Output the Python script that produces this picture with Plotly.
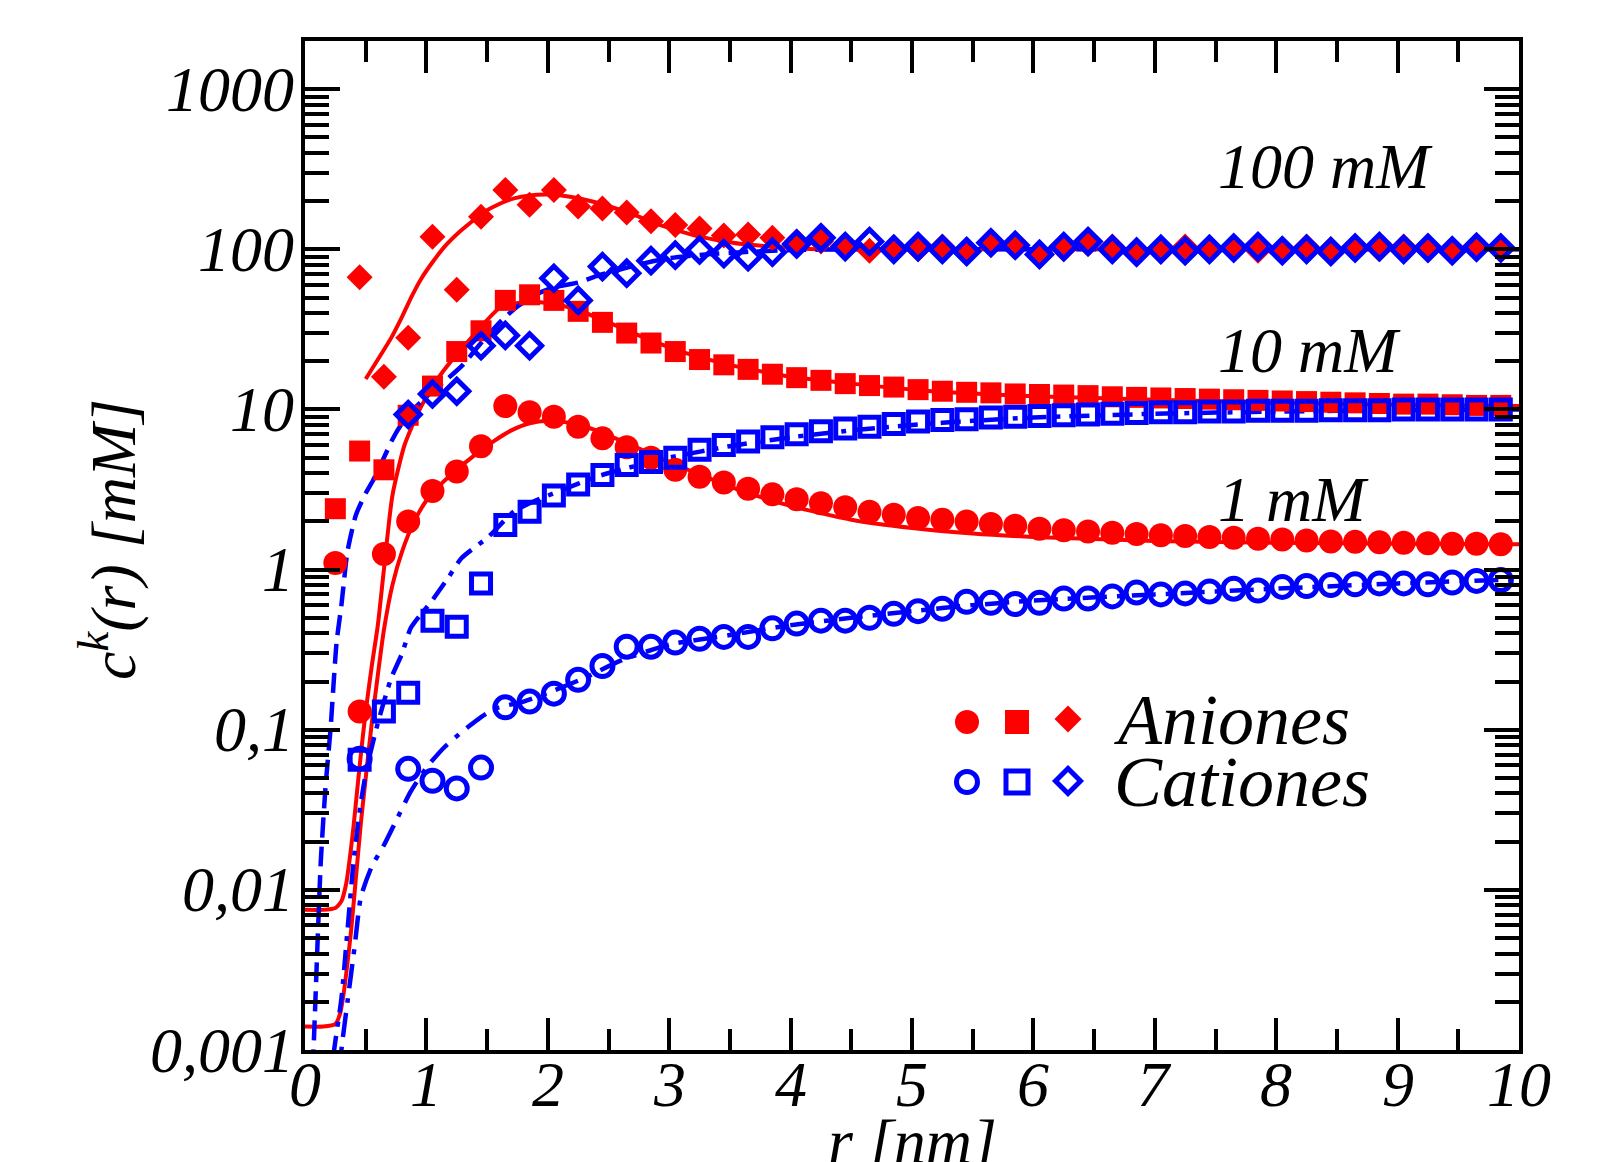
import numpy as np
import plotly.graph_objects as go

# ---------------- data ----------------
r_pts = np.round(np.arange(0.25, 9.86, 0.2), 2)  # sampling grid of the simulation points

an_1mM = [1.1, 0.13, 1.25, 2.0, 3.1, 4.1, 5.9, 10.5, 9.6, 9.0, 7.8, 6.6, 5.8, 5.0, 4.2, 3.8, 3.5, 3.2, 2.95,
          2.75, 2.6, 2.45, 2.3, 2.2, 2.1, 2.05, 2.0, 1.93, 1.88, 1.8, 1.76, 1.73, 1.7, 1.67, 1.64, 1.62, 1.6,
          1.58, 1.56, 1.54, 1.52, 1.5, 1.49, 1.48, 1.47, 1.46, 1.45, 1.45, 1.44]
an_10mM = [2.4, 5.5, 4.2, 9.2, 14, 23, 31, 48, 52, 48, 41, 35, 30, 26, 23, 20.5, 19, 17.8, 16.6, 15.8, 15.2,
           14.5, 14.1, 13.8, 13.3, 13.0, 12.8, 12.7, 12.5, 12.4, 12.3, 12.2, 12.0, 11.9, 11.8, 11.7, 11.6,
           11.5, 11.4, 11.3, 11.2, 11.1, 11.0, 10.9, 10.8, 10.8, 10.7, 10.6, 10.6]
an_100mM = [None, 67, 16, 28, 120, 56, 160, 235, 190, 235, 185, 180, 170, 150, 142, 135, 122, 124, 118, 112,
            112, 107, 98, 103, 100, 104, 96, 110, 104, 95, 100, 108, 104, 98, 97, 104, 100, 104, 98, 100, 104,
            100, 102, 100, 104, 100, 98, 102, 102]
cat_1mM = [None, 0.066, None, 0.057, 0.048, 0.043, 0.058, 0.138, 0.15, 0.168, 0.205, 0.25, 0.33, 0.33, 0.35,
           0.37, 0.38, 0.38, 0.43, 0.46, 0.48, 0.48, 0.5, 0.53, 0.55, 0.57, 0.63, 0.62, 0.61, 0.62, 0.66, 0.66,
           0.68, 0.72, 0.7, 0.71, 0.73, 0.76, 0.74, 0.78, 0.79, 0.8, 0.81, 0.82, 0.82, 0.81, 0.83, 0.85, 0.86]
cat_10mM = [None, 0.065, 0.13, 0.17, 0.48, 0.44, 0.82, 1.9, 2.3, 2.9, 3.4, 3.9, 4.5, 4.7, 5.0, 5.6, 6.0, 6.3,
            6.7, 7.0, 7.3, 7.6, 7.8, 8.1, 8.4, 8.6, 8.7, 8.9, 9.0, 9.1, 9.2, 9.3, 9.4, 9.5, 9.6, 9.6, 9.7, 9.7,
            9.8, 9.8, 9.8, 9.9, 9.9, 9.9, 10.0, 10.0, 10.0, 10.0, 10.0]
cat_100mM = [None, None, None, 9.3, 12.5, 13, 25, 29, 25, 66, 48, 78, 71, 85, 92, 99, 94, 90, 96, 108, 118,
             104, 112, 100, 104, 100, 97, 110, 106, 93, 104, 112, 100, 96, 100, 98, 100, 102, 104, 98, 100,
             97, 102, 104, 100, 102, 98, 103, 102]

# theory curves
rl_an1 = [0, 0.15, 0.25, 0.29, 0.32, 0.35, 0.38, 0.42, 0.46, 0.5, 0.55, 0.6, 0.65, 0.72, 0.8, 0.9, 1.0, 1.1,
          1.25, 1.4, 1.55, 1.7, 1.85, 2.0, 2.2, 2.4, 2.6, 2.8, 3.0, 3.3, 3.6, 4.0, 4.5, 5.0, 5.5, 6.0, 6.5,
          7.0, 8.0, 9.0, 10.0]
vl_an1 = [0.0014, 0.0014, 0.00145, 0.0017, 0.0023, 0.0035, 0.0056, 0.012, 0.026, 0.05, 0.11, 0.22, 0.42,
          0.8, 1.3, 2.0, 2.7, 3.3, 4.2, 5.2, 6.3, 7.4, 8.2, 8.5, 8.2, 7.4, 6.4, 5.5, 4.7, 3.8, 3.1, 2.5, 2.05,
          1.82, 1.68, 1.6, 1.55, 1.51, 1.47, 1.45, 1.44]
rl_an10 = [0, 0.15, 0.25, 0.3, 0.34, 0.37, 0.4, 0.43, 0.46, 0.5, 0.55, 0.6, 0.65, 0.72, 0.82, 0.95, 1.12,
           1.37, 1.62, 1.9, 2.2, 2.5, 2.8, 3.1, 3.5, 4.0, 4.5, 5.0, 5.5, 6.0, 7.0, 8.0, 9.0, 10.0]
vl_an10 = [0.0075, 0.0075, 0.0077, 0.0085, 0.011, 0.016, 0.025, 0.042, 0.07, 0.13, 0.25, 0.45, 1.0, 2.9, 6.0,
           10.2, 16.6, 28, 44, 47, 43, 35, 28, 23, 19, 16, 14.5, 13.3, 12.6, 12.1, 11.5, 11.0, 10.7, 10.5]
rl_an100 = [0.5, 0.6, 0.71, 0.8, 0.88, 0.96, 1.05, 1.15, 1.26, 1.37, 1.47, 1.6, 1.73, 1.85, 1.98, 2.1, 2.24,
            2.4, 2.58, 2.75, 2.92, 3.1, 3.25, 3.4, 3.6, 3.85, 4.1, 4.5, 5, 6, 7, 8, 9, 10]
vl_an100 = [15.5, 20.5, 28, 38, 51, 66, 83, 104, 126, 148, 170, 192, 209, 217, 220, 218, 209, 196, 178, 160,
            142, 129, 120, 114, 108, 104, 101, 100, 100, 100, 100, 100, 100, 100]
rl_cat1 = [0.28, 0.3, 0.35, 0.41, 0.46, 0.55, 0.65, 0.75, 0.87, 1.0, 1.15, 1.3, 1.45, 1.56, 1.8, 2.0, 2.3, 2.6,
           3.0, 3.5, 4.0, 4.5, 5.0, 5.5, 6, 7, 8, 9, 10]
vl_cat1 = [0.0006, 0.001, 0.002, 0.0045, 0.009, 0.014, 0.019, 0.027, 0.041, 0.058, 0.078, 0.098, 0.12, 0.135,
           0.15, 0.17, 0.21, 0.27, 0.34, 0.39, 0.45, 0.5, 0.55, 0.6, 0.64, 0.7, 0.76, 0.82, 0.87]
rl_cat10 = [0.2, 0.24, 0.3, 0.35, 0.4, 0.46, 0.51, 0.6, 0.71, 0.8, 0.87, 0.95, 1.04, 1.18, 1.29, 1.51, 1.72,
            1.9, 2.1, 2.4, 2.7, 3.0, 3.5, 4.0, 4.5, 5, 5.5, 6, 7, 8, 9, 10]
vl_cat10 = [0.0005, 0.001, 0.0021, 0.0056, 0.015, 0.035, 0.058, 0.11, 0.21, 0.3, 0.43, 0.52, 0.63, 0.89, 1.18,
            1.6, 2.3, 2.7, 3.1, 3.8, 4.4, 5.0, 5.9, 6.7, 7.4, 8.0, 8.5, 8.9, 9.4, 9.7, 9.9, 10.0]
rl_cat100 = [0.05, 0.07, 0.1, 0.13, 0.17, 0.21, 0.26, 0.3, 0.35, 0.42, 0.5, 0.56, 0.65, 0.72, 0.79, 0.88, 1.0,
             1.15, 1.3, 1.45, 1.62, 1.75, 1.9, 2.05, 2.25, 2.4, 2.6, 2.8, 3.0, 3.3, 3.6, 4.0, 4.5, 5, 6, 7, 8,
             9, 10]
vl_cat100 = [0.0005, 0.001, 0.004, 0.015, 0.045, 0.1, 0.35, 0.6, 1.3, 2.2, 3.0, 3.6, 5.0, 6.5, 8.0, 9.8, 12,
             15, 19, 26, 36, 44, 52, 58, 62, 68, 75, 82, 88, 93, 96, 99, 100, 100, 100, 100, 100, 100, 100]

y_tickvals = [0.001, 0.01, 0.1, 1, 10, 100, 1000]
y_ticktext = ["0,001", "0,01", "0,1", "1", "10", "100", "1000"]
x_tickvals = list(range(0, 11))
x_ticktext = [str(v) for v in x_tickvals]
conc_labels = ["100 mM", "10 mM", "1 mM"]
conc_label_y = [167, 350, 499]  # pixel rows of the labels
legend_labels = ["Aniones", "Cationes"]

RED = "#FF0000"
BLUE = "#0000FF"
FONT = "Liberation Serif"

W, H = 1614, 1162
ML, MR, MT, MB = 305, 95, 41, 112
PW, PH = W - ML - MR, H - MT - MB


def px_x(p):
    return (p - ML) / PW


def px_y(p):
    return (H - MB - p) / PH


def tfont(size):
    return dict(family=FONT, size=size, color="black", style="italic")


fig = go.Figure()

# theory lines
for rr, vv in [(rl_an1, vl_an1), (rl_an10, vl_an10), (rl_an100, vl_an100)]:
    fig.add_trace(go.Scatter(x=rr, y=vv, mode="lines", line=dict(color=RED, width=4, shape="spline",
                                                                   smoothing=0.6), showlegend=False))
fig.add_trace(go.Scatter(x=rl_cat100, y=vl_cat100, mode="lines",
                         line=dict(color=BLUE, width=4.5, dash="20px,9px", shape="spline", smoothing=0.6),
                         showlegend=False))
fig.add_trace(go.Scatter(x=rl_cat10, y=vl_cat10, mode="lines",
                         line=dict(color=BLUE, width=4.5, dash="20px,9px,5px,9px", shape="spline",
                                   smoothing=0.6), showlegend=False))
fig.add_trace(go.Scatter(x=rl_cat1, y=vl_cat1, mode="lines",
                         line=dict(color=BLUE, width=4.5, dash="24px,10px,5px,10px", shape="spline",
                                   smoothing=0.6), showlegend=False))

# anion markers (filled)
fig.add_trace(go.Scatter(x=r_pts, y=an_1mM, mode="markers",
                         marker=dict(symbol="circle", size=24, color=RED, line=dict(width=0)), showlegend=False))
fig.add_trace(go.Scatter(x=r_pts, y=an_10mM, mode="markers",
                         marker=dict(symbol="square", size=21, color=RED, line=dict(width=0)), showlegend=False))
fig.add_trace(go.Scatter(x=r_pts, y=an_100mM, mode="markers",
                         marker=dict(symbol="diamond", size=20, color=RED, line=dict(width=0)),
                         showlegend=False))
# cation markers (open)
fig.add_trace(go.Scatter(x=r_pts, y=cat_1mM, mode="markers",
                         marker=dict(symbol="circle-open", size=21, color=BLUE, line=dict(width=5, color=BLUE)),
                         showlegend=False))
fig.add_trace(go.Scatter(x=r_pts, y=cat_10mM, mode="markers",
                         marker=dict(symbol="square-open", size=19, color=BLUE, line=dict(width=5, color=BLUE)),
                         showlegend=False))
fig.add_trace(go.Scatter(x=r_pts, y=cat_100mM, mode="markers",
                         marker=dict(symbol="diamond-open", size=18.5, color=BLUE,
                                     line=dict(width=5, color=BLUE)),
                         showlegend=False))

axis_common = dict(
    showline=True, linecolor="black", linewidth=4, mirror="ticks",
    ticks="inside", tickcolor="black", tickwidth=4,
    showgrid=False, zeroline=False, showticklabels=False,
)

fig.update_xaxes(range=[0, 10], tickmode="array", tickvals=x_tickvals, ticklen=32,
                 minor=dict(ticks="inside", ticklen=21, tickwidth=4, tickcolor="black", dtick=0.5,
                            showgrid=False),
                 **axis_common)
minor_y = [m * 10.0 ** e for e in range(-3, 4) for m in range(2, 10) if m * 10.0 ** e < 2000]
fig.update_yaxes(type="log", range=[-3, np.log10(2000)], tickmode="array", tickvals=y_tickvals,
                 ticklen=35,
                 minor=dict(ticks="inside", ticklen=24, tickwidth=4, tickcolor="black",
                            tickmode="array", tickvals=minor_y, showgrid=False),
                 **axis_common)

annots = []
# tick labels
for v, t in zip(x_tickvals, x_ticktext):
    annots.append(dict(text=t, xref="x", yref="paper", x=v, y=px_y(1084), xanchor="center",
                       yanchor="middle", showarrow=False, font=tfont(64)))
for v, t in zip(y_tickvals, y_ticktext):
    annots.append(dict(text=t, xref="paper", yref="y", x=px_x(296), y=np.log10(v), xanchor="right",
                       yanchor="middle", showarrow=False, font=tfont(64)))
# axis titles
annots.append(dict(text="r [nm]", xref="paper", yref="paper", x=0.5, y=px_y(1141), xanchor="center",
                   yanchor="middle", showarrow=False, font=tfont(64)))
annots.append(dict(text="c<sup>k</sup>(r) [mM]", xref="paper", yref="paper", x=px_x(108), y=px_y(540),
                   xanchor="center", yanchor="middle", textangle=-90, showarrow=False, font=tfont(64)))
for lab, yy in zip(conc_labels, conc_label_y):
    annots.append(dict(text=lab, xref="paper", yref="paper", x=px_x(1216), y=px_y(yy), xanchor="left",
                       yanchor="middle", showarrow=False, font=tfont(64)))
# legend texts
for lab, yy in zip(legend_labels, [720, 782]):
    annots.append(dict(text=lab, xref="paper", yref="paper", x=px_x(1112), y=px_y(yy), xanchor="left",
                       yanchor="middle", showarrow=False, font=tfont(72)))

# legend symbols
shapes = []


def sym(kind, cx, cy, color, filled, s):
    base = dict(xref="paper", yref="paper", xsizemode="pixel", ysizemode="pixel",
                xanchor=px_x(cx), yanchor=px_y(cy),
                line=dict(color=color, width=0 if filled else 5),
                fillcolor=color if filled else "rgba(0,0,0,0)")
    h = s / 2
    if kind == "circle":
        base.update(type="circle", x0=-h, x1=h, y0=-h, y1=h)
    elif kind == "square":
        base.update(type="rect", x0=-h, x1=h, y0=-h, y1=h)
    else:
        base.update(type="path", path=f"M {-h} 0 L 0 {h} L {h} 0 L 0 {-h} Z")
    return base


shapes.append(sym("circle", 967, 722, RED, True, 24))
shapes.append(sym("square", 1017, 722, RED, True, 24))
shapes.append(sym("diamond", 1068, 719, RED, True, 27))
shapes.append(sym("circle", 967, 782, BLUE, False, 21))
shapes.append(sym("square", 1017, 782, BLUE, False, 22))
shapes.append(sym("diamond", 1068, 781, BLUE, False, 25))

fig.update_layout(
    width=W, height=H,
    margin=dict(l=ML, r=MR, t=MT, b=MB),
    plot_bgcolor="white", paper_bgcolor="white",
    annotations=annots, shapes=shapes,
    showlegend=False,
)

fig.write_html("out.html")
